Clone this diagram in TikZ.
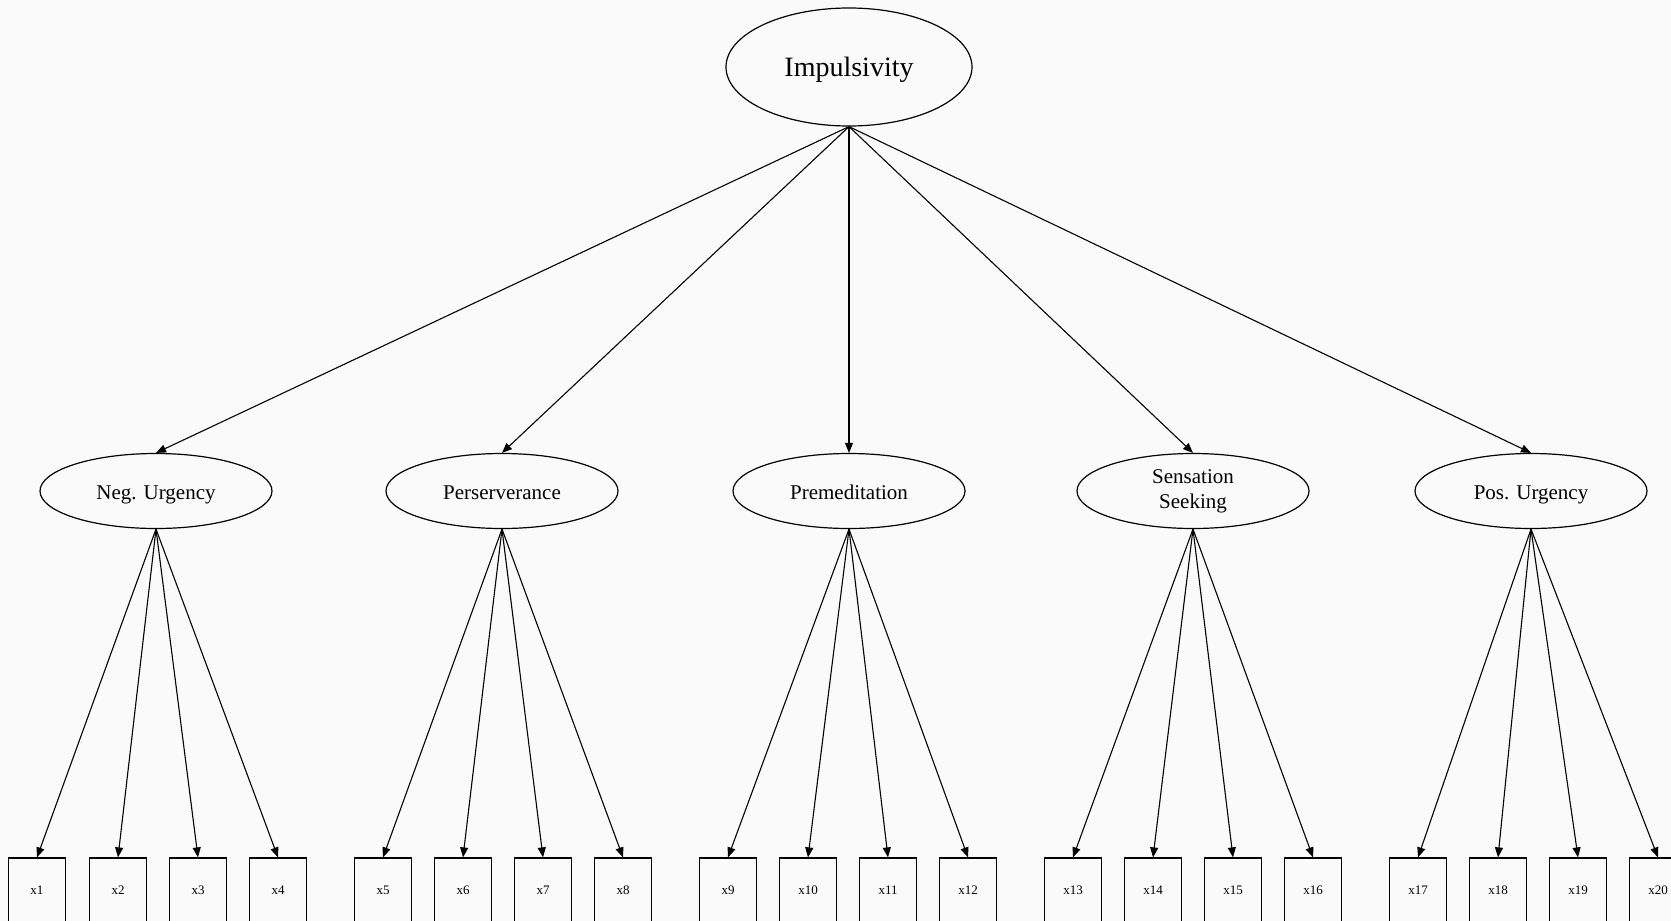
\documentclass[tikz,border=0pt]{standalone}
\usepackage{fontspec}
\setmainfont{Liberation Serif}
\usetikzlibrary{shapes.geometric,arrows.meta}
\definecolor{bg}{HTML}{FAFAFA}
\tikzset{
  lat/.style={draw, ellipse, inner sep=0pt, line width=1.2pt, align=center},
  top/.style={lat, minimum width=246pt, minimum height=118pt, font=\fontsize{28}{32}\selectfont, text height=19.5pt, text depth=0pt},
  fac/.style={lat, minimum width=232pt, minimum height=75pt, font=\fontsize{21}{24}\selectfont},
  one/.style={text height=16pt, text depth=0pt},
  ind/.style={draw, rectangle, line width=1.2pt, minimum width=57pt, minimum height=64pt, inner sep=0pt, font=\fontsize{13}{15}\selectfont},
  arr/.style={line width=1.1pt, -{Triangle[length=10pt,width=8pt]}}
}
\begin{document}
\begin{tikzpicture}[x=1pt,y=-1pt]
\useasboundingbox (0,0) rectangle (1671,921);
\fill[bg] (0,0) rectangle (1671,921);
\clip (0,0) rectangle (1671,921);
\node[top] (imp) at (849,67) {Impulsivity};
\node[fac,one] (f1) at (156,491) {Neg. Urgency};
\node[fac,one] (f2) at (502,491) {Perserverance};
\node[fac,one] (f3) at (849,491) {Premeditation};
\node[fac] (f4) at (1193,491) {\raisebox{-5.7pt}{\begin{tabular}{@{}c@{}}Sensation\\[1.2pt]Seeking\end{tabular}}};
\node[fac,one] (f5) at (1531,491) {Pos. Urgency};
\foreach \i in {1,...,5} \draw[arr] (imp.south) -- (f\i.north);
\foreach \x [count=\n] in {37,118,198,278,383,463,543,623,728,808,888,968,1073,1153,1233,1313,1418,1498,1578,1658}
  \node[ind] (x\n) at (\x,890) {x\n};
\foreach \f in {1,...,5}{
  \foreach \k in {1,...,4}{
    \pgfmathtruncatemacro{\n}{(\f-1)*4+\k}
    \draw[arr] (f\f.south) -- (x\n.north);
  }
}
\end{tikzpicture}
\end{document}
